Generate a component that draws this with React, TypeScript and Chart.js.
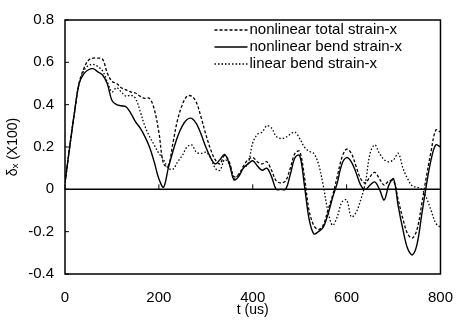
import { useEffect, useRef } from "react";
import { Chart, registerables } from "chart.js";

Chart.register(...registerables);

// time in microseconds
const times = [
  0, 10, 20, 30, 40, 50, 60, 70, 80, 90,
  100, 110, 120, 130, 140, 150, 160, 170, 180, 190,
  200, 210, 220, 230, 240, 250, 260, 270, 280, 290,
  300, 310, 320, 330, 340, 350, 360, 370, 380, 390,
  400, 410, 420, 430, 440, 450, 460, 470, 480, 490,
  500, 510, 520, 530, 540, 550, 560, 570, 580, 590,
  600, 610, 620, 630, 640, 650, 660, 670, 680, 690,
  700, 710, 720, 730, 740, 750, 760, 770, 780, 790,
  800,
];

const nonlinearTotal = [
  0.03, 0.2, 0.36, 0.5, 0.57, 0.61, 0.62, 0.62, 0.615, 0.55,
  0.51, 0.5, 0.48, 0.47, 0.46, 0.455, 0.44, 0.43, 0.43, 0.38,
  0.27, 0.12, 0.11, 0.22, 0.33, 0.4, 0.44, 0.44, 0.41, 0.34,
  0.26, 0.19, 0.14, 0.12, 0.16, 0.13, 0.06, 0.07, 0.11, 0.14,
  0.15, 0.13, 0.12, 0.13, 0.09, 0.04, 0.03, 0.04, 0.1, 0.17,
  0.18, 0.06, -0.1, -0.17, -0.19, -0.17, -0.1, -0.03, 0.06, 0.15,
  0.19, 0.17, 0.11, 0.05, 0.03, 0.06, 0.08, 0.05, 0.02, 0.04,
  0.04, -0.05, -0.14, -0.21, -0.23, -0.19, -0.07, 0.06, 0.18, 0.28,
  0.27,
];

const nonlinearBend = [
  0.03, 0.2, 0.36, 0.5, 0.545, 0.565, 0.57, 0.555, 0.54, 0.5,
  0.42, 0.4, 0.395, 0.39, 0.36, 0.32, 0.29, 0.25, 0.2, 0.13,
  0.05, 0.01, 0.1, 0.18, 0.25, 0.3, 0.33, 0.335, 0.31, 0.26,
  0.2, 0.15, 0.12, 0.14, 0.165, 0.12, 0.045, 0.06, 0.1, 0.12,
  0.135, 0.11, 0.09, 0.1, 0.06, 0.0, 0.0, 0.0, 0.07, 0.15,
  0.16, 0.02, -0.14, -0.21, -0.2, -0.18, -0.12, -0.04, 0.03, 0.12,
  0.15, 0.13, 0.08, 0.02, 0.0, 0.02, 0.035, 0.0, -0.05, 0.02,
  0.05, -0.08, -0.19, -0.28, -0.31, -0.26, -0.12, 0.02, 0.14, 0.21,
  0.2,
];

const linearBend = [
  0.03, 0.2, 0.36, 0.5, 0.56, 0.585, 0.59, 0.58, 0.56, 0.51,
  0.46, 0.48, 0.46, 0.44, 0.445, 0.43, 0.37, 0.3, 0.25, 0.21,
  0.17, 0.14, 0.1, 0.095, 0.13, 0.16, 0.2, 0.21, 0.175, 0.17,
  0.175, 0.15, 0.1, 0.09, 0.14, 0.12, 0.05, 0.07, 0.1, 0.12,
  0.22, 0.26, 0.27, 0.3, 0.29, 0.25, 0.24, 0.245, 0.26, 0.27,
  0.24, 0.2, 0.18, 0.17, 0.12, 0.02, -0.1, -0.17, -0.13, -0.06,
  -0.05, -0.13, -0.11, -0.05, 0.03, 0.17, 0.21, 0.17, 0.14, 0.13,
  0.14, 0.17, 0.1, 0.05, 0.015, 0.01, 0.0, -0.04, -0.1, -0.16,
  -0.18,
];

const seriesNames = [
  "nonlinear total strain-x",
  "nonlinear bend strain-x",
  "linear bend strain-x",
];

const xTickValues = [0, 200, 400, 600, 800];
const yTickValues = [0.8, 0.6, 0.4, 0.2, 0, -0.2, -0.4];
const yTickLabels = ["0.8", "0.6", "0.4", "0.2", "0", "-0.2", "-0.4"];

const FONT = "'Liberation Sans', Arial, sans-serif";

const framePlugin = {
  id: "frameAndLegend",
  afterDatasetsDraw(chart: any) {
    const { ctx, chartArea: a, scales } = chart;
    ctx.save();
    ctx.strokeStyle = "#000";
    ctx.lineWidth = 1.5;
    ctx.setLineDash([]);
    ctx.strokeRect(a.left, a.top, a.right - a.left, a.bottom - a.top);
    const y0 = scales.y.getPixelForValue(0);
    ctx.beginPath();
    ctx.moveTo(a.left, y0);
    ctx.lineTo(a.right, y0);
    ctx.stroke();
    ctx.lineWidth = 1;
    ctx.beginPath();
    for (const v of yTickValues) {
      const y = scales.y.getPixelForValue(v);
      ctx.moveTo(a.left, y);
      ctx.lineTo(a.left + 4, y);
    }
    for (const v of xTickValues) {
      const x = scales.x.getPixelForValue(v);
      ctx.moveTo(x, y0);
      ctx.lineTo(x, y0 - 5);
    }
    ctx.stroke();

    // legend
    const rows = [a.top + 10, a.top + 27, a.top + 44];
    const lineX0 = a.right - 226;
    const lineX1 = a.right - 193;
    ctx.font = `15px ${FONT}`;
    ctx.fillStyle = "#000";
    ctx.textBaseline = "middle";
    ctx.textAlign = "left";
    chart.data.datasets.forEach((ds: any, i: number) => {
      const y = rows[i];
      ctx.beginPath();
      ctx.lineWidth = ds.borderWidth;
      ctx.setLineDash(ds.borderDash || []);
      ctx.moveTo(lineX0, y);
      ctx.lineTo(lineX1, y);
      ctx.stroke();
      ctx.setLineDash([]);
      ctx.fillText(ds.label, lineX1 + 2, y);
    });
    ctx.restore();
  },
};

export default function App() {
  const ref = useRef<HTMLCanvasElement | null>(null);

  useEffect(() => {
    document.body.style.margin = "0";
    const canvas = ref.current;
    if (!canvas) return;
    const mk = (vals: number[]) => times.map((t, i) => ({ x: t, y: vals[i] }));
    const chart = new Chart(canvas, {
      type: "line",
      data: {
        datasets: [
          {
            label: seriesNames[0],
            data: mk(nonlinearTotal),
            borderColor: "#000",
            borderWidth: 1.3,
            borderDash: [3, 2],
            pointRadius: 0,
            tension: 0.35,
            fill: false,
          },
          {
            label: seriesNames[1],
            data: mk(nonlinearBend),
            borderColor: "#000",
            borderWidth: 1.4,
            borderDash: [],
            pointRadius: 0,
            tension: 0.35,
            fill: false,
          },
          {
            label: seriesNames[2],
            data: mk(linearBend),
            borderColor: "#000",
            borderWidth: 1.3,
            borderDash: [1.5, 2],
            pointRadius: 0,
            tension: 0.35,
            fill: false,
          },
        ],
      },
      options: {
        animation: false,
        responsive: true,
        maintainAspectRatio: false,
        layout: { padding: { top: 14, right: 14, left: 0, bottom: 0 } },
        plugins: {
          legend: { display: false },
          tooltip: { enabled: false },
        },
        scales: {
          x: {
            type: "linear",
            min: 0,
            max: 800,
            afterFit: (s: any) => {
              s.height = 50;
            },
            afterBuildTicks: (s: any) => {
              s.ticks = xTickValues.map((v) => ({ value: v }));
            },
            border: { display: false },
            grid: { display: false, drawTicks: false },
            ticks: {
              color: "#000",
              padding: 15,
              maxRotation: 0,
              font: { family: FONT, size: 15 },
            },
            title: {
              display: true,
              text: "t (us)",
              color: "#000",
              font: { family: FONT, size: 14 },
              padding: { top: 0, bottom: 5 },
            },
          },
          y: {
            type: "linear",
            min: -0.4,
            max: 0.8,
            afterFit: (s: any) => {
              s.width = 65;
            },
            afterBuildTicks: (s: any) => {
              s.ticks = yTickValues.map((v) => ({ value: v }));
            },
            border: { display: false },
            grid: { display: false, drawTicks: false },
            ticks: {
              color: "#000",
              padding: 11,
              font: { family: FONT, size: 15 },
              callback: (v: any) => {
                const idx = yTickValues.findIndex((t) => Math.abs(t - Number(v)) < 1e-9);
                return idx >= 0 ? yTickLabels[idx] : "";
              },
            },
            title: {
              display: true,
              text: "δₓ (X100)",
              color: "#000",
              font: { family: FONT, size: 14 },
              padding: { top: 5, bottom: 0 },
            },
          },
        },
      },
      plugins: [framePlugin],
    });
    return () => chart.destroy();
  }, []);

  return (
    <div style={{ width: 468, height: 324, position: "relative" }}>
      <canvas ref={ref} />
    </div>
  );
}
